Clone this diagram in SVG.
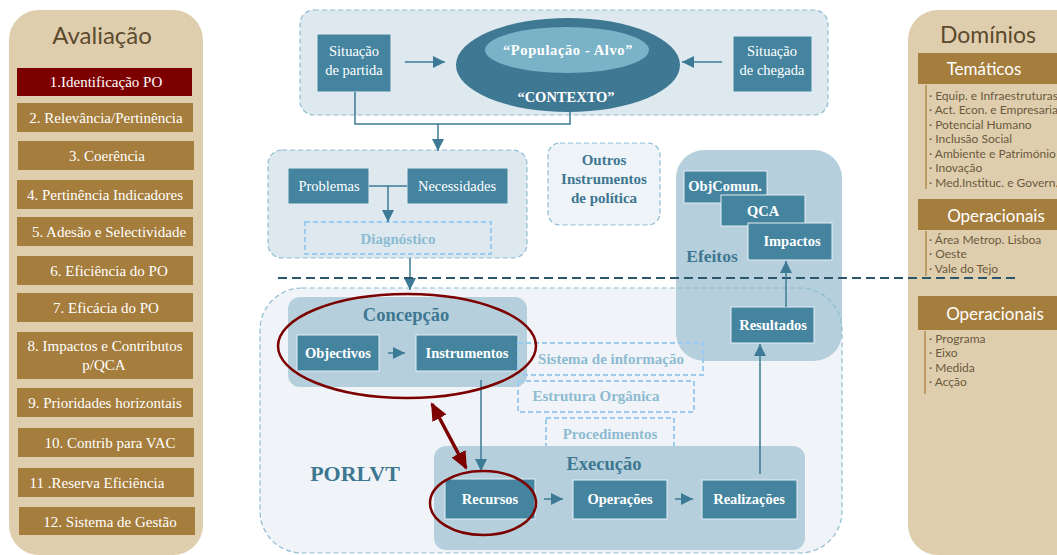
<svg xmlns="http://www.w3.org/2000/svg" width="1057" height="555" viewBox="0 0 1057 555">
  <defs>
    <style>
      .pan{fill:#dfcead}
      .btn{fill:#a57d3c}
      .btnsel{fill:#7d0000}
      .btxt{font-family:"Liberation Serif",serif;font-size:15px;fill:#fff;text-anchor:middle}
      .ttl{font-family:Lato,"Open Sans",sans-serif;fill:#5c4a2e;text-anchor:middle}
      .bar{fill:#a57d3c}
      .bartxt{font-family:Lato,"Open Sans",sans-serif;font-size:17px;fill:#fff;text-anchor:middle}
      .item{font-family:Lato,"Open Sans",sans-serif;font-size:12px;fill:#6b5a40}
      .vbar{stroke:#b08c52;stroke-width:1.5}
      .zone{fill:#dde9ef;stroke:#8fbcd4;stroke-width:1.2;stroke-dasharray:5 3}
      .zone2{fill:#eef4f8;stroke:#8fbcd4;stroke-width:1.2;stroke-dasharray:5 3}
      .sub{fill:#b5d0dc}
      .box{fill:#44849f;stroke:#e3eef3;stroke-width:1}
      .wt{font-family:"Liberation Serif",serif;font-size:14.5px;fill:#fff;text-anchor:middle}
      .wb{font-family:"Liberation Serif",serif;font-weight:bold;font-size:14.5px;fill:#fff;text-anchor:middle}
      .hd{font-family:"Liberation Serif",serif;font-weight:bold;fill:#3e7791;text-anchor:middle}
      .dbox{fill:none;stroke:#9ccbf0;stroke-width:2;stroke-dasharray:5 3}
      .lt{font-family:"Liberation Serif",serif;font-weight:bold;font-size:15px;fill:#8dbbd2;text-anchor:middle}
      .ln{stroke:#3d7a95;stroke-width:1.5;fill:none}
      .red{stroke:#7d0000;stroke-width:2.5;fill:none}
    </style>
    <marker id="ah" markerUnits="userSpaceOnUse" markerWidth="12" markerHeight="12" viewBox="0 0 12 12" refX="12" refY="6" orient="auto">
      <path d="M0,0 L12,6 L0,12 z" fill="#3d7a95"/>
    </marker>
    <marker id="rh" markerUnits="userSpaceOnUse" markerWidth="18" markerHeight="18" viewBox="0 0 18 18" refX="16" refY="9" orient="auto-start-reverse">
      <path d="M0,1 L18,9 L0,17 z" fill="#7d0000"/>
    </marker>
  </defs>

  <!-- evaluation stages -->
  <g id="avaliacao">
    <rect class="pan" x="9" y="10" width="194" height="545" rx="30"/>
    <text class="ttl" x="102" y="44" font-size="24">Avaliação</text>
    <rect class="btnsel" x="17" y="68" width="175" height="28"/>
    <text class="btxt" x="106" y="87">1.Identificação PO</text>
    <rect class="btn" x="17" y="103" width="176" height="29"/>
    <text class="btxt" x="106" y="123">2. Relevância/Pertinência</text>
    <rect class="btn" x="18" y="141" width="176" height="29"/>
    <text class="btxt" x="107" y="161">3. Coerência</text>
    <rect class="btn" x="17" y="180" width="176" height="29"/>
    <text class="btxt" x="105" y="200">4. Pertinência Indicadores</text>
    <rect class="btn" x="17" y="217" width="176" height="29"/>
    <text class="btxt" x="109" y="237">5. Adesão e Selectividade</text>
    <rect class="btn" x="17" y="256" width="176" height="29"/>
    <text class="btxt" x="109" y="276">6. Eficiência do PO</text>
    <rect class="btn" x="17" y="293" width="176" height="29"/>
    <text class="btxt" x="106" y="313">7. Eficácia do PO</text>
    <rect class="btn" x="17" y="332" width="176" height="47"/>
    <text class="btxt" x="105" y="351">8. Impactos e Contributos</text>
    <text class="btxt" x="104" y="370">p/QCA</text>
    <rect class="btn" x="17" y="388" width="176" height="29"/>
    <text class="btxt" x="105" y="408">9. Prioridades horizontais</text>
    <rect class="btn" x="18" y="428" width="176" height="29"/>
    <text class="btxt" x="110" y="448">10. Contrib para VAC</text>
    <rect class="btn" x="18" y="468" width="176" height="29"/>
    <text class="btxt" x="97" y="488">11 .Reserva Eficiência</text>
    <rect class="btn" x="19" y="507" width="176" height="28"/>
    <text class="btxt" x="110" y="527">12. Sistema de Gestão</text>
  </g>

  <!-- domains -->
  <g id="dominios">
    <rect class="pan" x="908" y="10" width="180" height="545" rx="30"/>
    <text class="ttl" x="988" y="43" font-size="23">Domínios</text>
    <rect class="bar" x="918" y="53" width="139" height="31"/>
    <text class="bartxt" x="984" y="75">Temáticos</text>
    <line class="vbar" x1="926" y1="85" x2="926" y2="189"/>
    <text class="item" x="929" y="100">· Equip. e Infraestruturas</text>
    <text class="item" x="929" y="114">· Act. Econ. e Empresaria</text>
    <text class="item" x="929" y="129">· Potencial Humano</text>
    <text class="item" x="929" y="143">· Inclusão Social</text>
    <text class="item" x="929" y="158">· Ambiente e Património</text>
    <text class="item" x="929" y="172">· Inovação</text>
    <text class="item" x="929" y="187">· Med.Instituc. e Govern.</text>
    <rect class="bar" x="918" y="199" width="139" height="31"/>
    <text class="bartxt" x="996" y="222">Operacionais</text>
    <line class="vbar" x1="926" y1="231" x2="926" y2="276"/>
    <text class="item" x="929" y="244">· Área Metrop. Lisboa</text>
    <text class="item" x="929" y="258">· Oeste</text>
    <text class="item" x="929" y="273">· Vale do Tejo</text>
    <rect class="bar" x="918" y="296" width="139" height="34"/>
    <text class="bartxt" x="995" y="320">Operacionais</text>
    <line class="vbar" x1="925" y1="331" x2="925" y2="394"/>
    <text class="item" x="929" y="343">· Programa</text>
    <text class="item" x="929" y="357">· Eixo</text>
    <text class="item" x="929" y="372">· Medida</text>
    <text class="item" x="929" y="386">· Acção</text>
  </g>

  <!-- context -->
  <g id="contexto">
    <rect class="zone" x="300" y="10" width="528" height="105" rx="14"/>
    <ellipse cx="568" cy="65" rx="112" ry="47" fill="#3f7892"/>
    <ellipse cx="567" cy="50" rx="82" ry="23" fill="#7ab3c8"/>
    <text class="wb" x="568" y="55" font-size="15" letter-spacing="0.6">“População - Alvo”</text>
    <text class="wb" x="566" y="102" font-size="15">“CONTEXTO”</text>
  </g>
  <g id="partida">
    <rect class="box" x="317" y="34" width="74" height="58"/>
    <text class="wt" x="354" y="56" font-size="13.5">Situação</text>
    <text class="wt" x="354" y="75" font-size="13.5">de partida</text>
  </g>
  <g id="chegada">
    <rect class="box" x="733" y="36" width="79" height="56"/>
    <text class="wt" x="772" y="56" font-size="13.5">Situação</text>
    <text class="wt" x="772" y="75" font-size="13.5">de chegada</text>
  </g>

  <!-- diagnosis -->
  <g id="diagnostico">
    <rect class="zone" x="268" y="150" width="259" height="108" rx="14"/>
    <rect class="dbox" x="305" y="222" width="186" height="32"/>
    <text class="lt" x="398" y="244">Diagnóstico</text>
  </g>
  <g id="problemas">
    <rect class="box" x="288" y="168" width="81" height="36"/>
    <text class="wt" x="329" y="191">Problemas</text>
  </g>
  <g id="necessidades">
    <rect class="box" x="407" y="168" width="101" height="36"/>
    <text class="wt" x="457" y="191">Necessidades</text>
  </g>

  <g id="outros">
    <rect class="zone2" x="548" y="143" width="112" height="82" rx="12"/>
    <text class="hd" x="604" y="165" font-size="15">Outros</text>
    <text class="hd" x="604" y="184" font-size="15">Instrumentos</text>
    <text class="hd" x="604" y="203" font-size="15">de política</text>
  </g>

  <!-- programme area -->
  <g id="porlvt">
    <rect x="260" y="288" width="582" height="265" rx="42" fill="#f0f4f8"/>
  </g>

  <!-- effects -->
  <g id="efeitos">
    <rect class="sub" x="676" y="150" width="166" height="211" rx="28"/>
    <text class="hd" x="712" y="262" font-size="17.5">Efeitos</text>
  </g>

  <g id="porlvt-frame">
    <rect x="260" y="288" width="582" height="265" rx="42" fill="none" stroke="#8fbcd4" stroke-width="1.2" stroke-dasharray="5 3"/>
    <text class="hd" x="355" y="481" font-size="22">PORLVT</text>
  </g>

  <g id="objcomun">
    <rect class="box" x="684" y="171" width="83" height="32"/>
    <text class="wb" x="725" y="191">ObjComun.</text>
  </g>
  <g id="qca">
    <rect class="box" x="721" y="195" width="84" height="31"/>
    <text class="wb" x="763" y="216">QCA</text>
  </g>
  <g id="impactos">
    <rect class="box" x="748" y="223" width="84" height="37"/>
    <text class="wb" x="792" y="246">Impactos</text>
  </g>
  <g id="resultados">
    <rect class="box" x="731" y="307" width="83" height="36"/>
    <text class="wb" x="773" y="330">Resultados</text>
  </g>

  <!-- design -->
  <g id="concepcao">
    <rect class="sub" x="288" y="297" width="239" height="90" rx="12"/>
    <text class="hd" x="406" y="321" font-size="18.5">Concepção</text>
  </g>
  <g id="objectivos">
    <rect class="box" x="297" y="335" width="82" height="36"/>
    <text class="wb" x="338" y="358">Objectivos</text>
  </g>
  <g id="instrumentos">
    <rect class="box" x="416" y="335" width="102" height="36"/>
    <text class="wb" x="467" y="358">Instrumentos</text>
  </g>

  <g id="sistema">
    <rect class="dbox" x="518" y="343" width="185" height="32"/>
    <text class="lt" x="611" y="364">Sistema de informação</text>
  </g>
  <g id="estrutura">
    <rect class="dbox" x="518" y="381" width="176" height="31"/>
    <text class="lt" x="596" y="401">Estrutura Orgânica</text>
  </g>
  <g id="procedimentos">
    <rect class="dbox" x="546" y="418" width="128" height="31"/>
    <text class="lt" x="610" y="439">Procedimentos</text>
  </g>

  <!-- execution -->
  <g id="execucao">
    <rect class="sub" x="434" y="446" width="371" height="104" rx="12"/>
    <text class="hd" x="604" y="470" font-size="18.5">Execução</text>
  </g>
  <g id="recursos">
    <rect class="box" x="445" y="479" width="90" height="40"/>
    <text class="wb" x="490" y="504">Recursos</text>
  </g>
  <g id="operacoes">
    <rect class="box" x="573" y="480" width="94" height="39"/>
    <text class="wb" x="620" y="504">Operações</text>
  </g>
  <g id="realizacoes">
    <rect class="box" x="702" y="480" width="95" height="39"/>
    <text class="wb" x="749" y="504">Realizações</text>
  </g>

  <!-- connectors -->
  <g id="connectors">
    <line class="ln" x1="405" y1="62" x2="445" y2="62" marker-end="url(#ah)"/>
    <line class="ln" x1="722" y1="62" x2="682" y2="62" marker-end="url(#ah)"/>
    <polyline class="ln" points="355,92 355,124 570,124 570,110"/>
    <line class="ln" x1="438" y1="124" x2="438" y2="151" marker-end="url(#ah)"/>
    <line class="ln" x1="369" y1="186" x2="407" y2="186"/>
    <line class="ln" x1="388" y1="186" x2="388" y2="222" marker-end="url(#ah)"/>
    <line class="ln" x1="410" y1="258" x2="410" y2="290" marker-end="url(#ah)"/>
    <line x1="278" y1="278" x2="1020" y2="278" stroke="#2b566b" stroke-width="2" stroke-dasharray="9 5"/>
    <line class="ln" x1="786" y1="307" x2="786" y2="261" marker-end="url(#ah)"/>
    <line class="ln" x1="388" y1="353" x2="405" y2="353" marker-end="url(#ah)"/>
    <line class="ln" x1="481" y1="380" x2="481" y2="471" marker-end="url(#ah)"/>
    <line class="ln" x1="760" y1="474" x2="760" y2="344" marker-end="url(#ah)"/>
    <line class="ln" x1="544" y1="499" x2="563" y2="499" marker-end="url(#ah)"/>
    <line class="ln" x1="675" y1="499" x2="693" y2="499" marker-end="url(#ah)"/>
    <ellipse class="red" cx="407" cy="346" rx="129" ry="52"/>
    <ellipse class="red" cx="483" cy="503" rx="53" ry="32"/>
    <line x1="432" y1="404" x2="466" y2="468" stroke="#7d0000" stroke-width="3.5" marker-start="url(#rh)" marker-end="url(#rh)"/>
  </g>
</svg>
